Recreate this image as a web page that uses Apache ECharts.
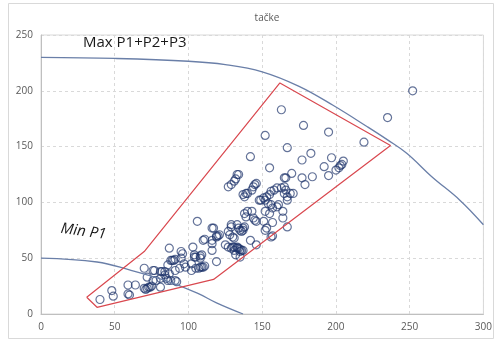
<!DOCTYPE html>
<html>
<head>
    <meta charset="utf-8">
    <title>tačke</title>
    <script src="https://cdn.jsdelivr.net/npm/echarts@6/dist/echarts.min.js"></script>
    <style>
        html, body { margin: 0; padding: 0; background: #fff; }
        #chart { width: 495px; height: 341px; }
    </style>
</head>
<body>
<div id="chart"></div>
<script type="text/javascript">
    // measured points (x, y)
    var points = [
        [40,13],[48,21],[49,16],[59,26],[59,18],[60,17],[64,26],
        [70,23],[71,22],[72,23],[73,24],[74,24],[75,25],
        [70,41],[72,33],[76,30],[77,39],[78,30],[81,32],[82,38],[81,24],
        [84,35],[85,32],[86,30],[88,30],[91,30],[92,29],
        [76,39],[81,38],[84,38],[87,36],[91,39],[94,41],[98,42],[102,45],
        [86,44],[88,48],[89,48],[90,48],[91,49],[87,59],
        [95,56],[96,54],[95,50],[97,45],[103,60],[106,83],
        [104,51],[105,51],[108,50],[104,53],[108,52],[109,53],
        [102,39],[105,41],[107,41],[108,42],[109,42],[110,42],[111,43],
        [116,57],[119,47],[110,66],[111,67],[116,63],[116,66],[116,77],[119,70],[120,70],[121,71],
        [117,77],[119,69],[127,74],[129,80],
        [125,62],[127,60],[129,59],[131,60],[134,59],[136,57],[133,60],[135,58],
        [132,53],[135,51],
        [128,71],[130,69],[131,68],
        [129,78],[133,80],[137,77],[136,74],[135,75],
        [130,60],[131,57],[133,59],[135,56],[137,57],
        [134,77],[137,75],[138,78],
        [138,90],[139,87],[140,92],[143,92],
        [144,86],[145,84],[146,83],
        [142,66],[146,62],
        [127,114],[129,116],[131,119],[132,121],[133,125],[134,125],
        [137,107],[139,108],
        [138,105],[140,108],[143,111],[144,114],[145,116],[146,117],
        [142,141],
        [148,102],[151,104],[153,105],[155,107],
        [156,110],[158,111],[160,113],
        [163,113],[165,114],[166,111],[167,105],
        [154,99],[156,98],[157,95],[160,96],[161,98],
        [152,92],[155,90],
        [164,92],[164,86],[167,78],
        [151,83],[153,77],[157,82],[152,75],[156,69],[157,70],
        [149,102],[152,102],
        [155,131],[165,122],[152,160],[163,183],[167,149],
        [165,108],[169,108],[171,108],[167,102],
        [178,169],[195,163],[177,138],[183,144],[197,140],
        [170,126],[166,122],[177,122],[184,123],[179,116],
        [192,132],[195,124],
        [200,129],[202,131],[204,134],[205,137],[203,133],
        [219,154],[235,176],[252,200]
    ];

    // Max P1+P2+P3 boundary
    var maxCurve = [
        [0,230],[50,229],[100,226.5],[125,223.5],[150,217],[175,204],[198,187],
        [221,168],[235,156],[248,144],[265,123],[284,102],[300,80]
    ];

    // Min P1 boundary
    var minCurve = [
        [0,50],[38,46.6],[60,39.5],[83,30.5],[106,18.7],[119,10],[137,0]
    ];

    // red outline around the cloud
    var outline = [
        [31,15],[70,56],[162,207],[237,151],[117,31],[38,6],[31,15]
    ];

    var xTicks = [0, 300, 50];
    var yTicks = [0, 250, 50];

    var chart = echarts.init(document.getElementById('chart'));

    var labelFont = {color: '#595959', fontSize: 10, fontFamily: 'Open Sans'};

    var option = {
        backgroundColor: '#fff',
        animation: false,
        title: {
            text: 'tačke',
            left: 262,
            top: 8,
            textAlign: 'center',
            textStyle: {color: '#595959', fontSize: 10, fontWeight: 'normal', fontFamily: 'Open Sans'}
        },
        grid: {
            left: 41, right: 11, top: 35, bottom: 27,
            show: true, borderColor: '#d9d9d9', borderWidth: 1
        },
        xAxis: {
            type: 'value',
            min: xTicks[0], max: xTicks[1], interval: xTicks[2],
            axisLine: {show: true, lineStyle: {color: '#bfbfbf'}},
            axisTick: {show: false},
            axisLabel: Object.assign({margin: 8}, labelFont),
            splitLine: {show: true, lineStyle: {color: '#d9d9d9', type: [3, 3]}}
        },
        yAxis: {
            type: 'value',
            min: yTicks[0], max: yTicks[1], interval: yTicks[2],
            axisLine: {show: true, lineStyle: {color: '#bfbfbf'}},
            axisTick: {show: false},
            axisLabel: Object.assign({margin: 8}, labelFont),
            splitLine: {show: true, lineStyle: {color: '#d9d9d9', type: [3, 3]}}
        },
        graphic: [
            {
                type: 'rect',
                shape: {x: 8.5, y: 3.5, width: 485, height: 335},
                style: {fill: 'none', stroke: '#d9d9d9', lineWidth: 1},
                silent: true, z: -1
            },
            {
                type: 'text',
                x: 83, y: 35,
                style: {text: 'Max P1+P2+P3', fill: '#1a1a1a', font: '15px "Open Sans"'}
            },
            {
                type: 'text',
                x: 62, y: 221,
                rotation: -0.14,
                style: {text: 'Min P1', fill: '#1a1a1a', font: 'italic 15px "Open Sans"'}
            }
        ],
        series: [
            {
                type: 'scatter',
                data: points,
                symbol: 'circle',
                symbolSize: 8,
                itemStyle: {color: 'rgba(0,0,0,0)', borderColor: 'rgba(28,50,105,0.85)', borderWidth: 1.2}
            },
            {
                type: 'line',
                data: maxCurve,
                smooth: 0.4,
                showSymbol: false,
                lineStyle: {color: '#6a7fa8', width: 1.3}
            },
            {
                type: 'line',
                data: minCurve,
                smooth: 0.4,
                showSymbol: false,
                lineStyle: {color: '#6a7fa8', width: 1.3}
            },
            {
                type: 'line',
                data: outline,
                smooth: false,
                showSymbol: false,
                lineStyle: {color: '#d9484f', width: 1.2}
            }
        ]
    };

    chart.setOption(option);
</script>
</body>
</html>
